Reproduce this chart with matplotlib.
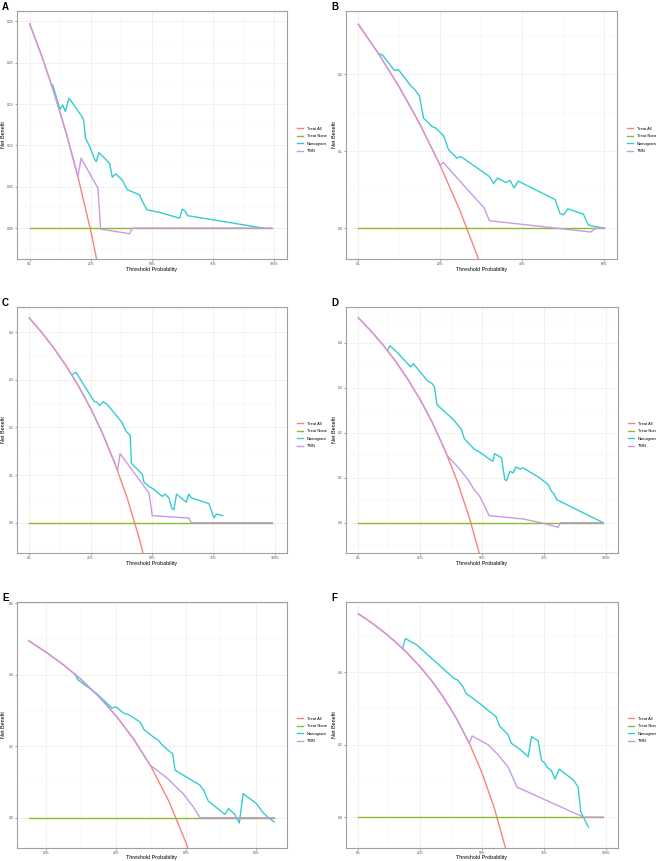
import matplotlib
matplotlib.use("Agg")
import matplotlib.pyplot as plt
from matplotlib.lines import Line2D

plt.rcParams["font.family"] = ["Liberation Sans", "DejaVu Sans"]

W, H = 656, 861

SERIES = ["Treat All", "Treat None", "Nomogram", "TMN"]
COLORS = ["#F9847B", "#8BBA2A", "#33CDD0", "#C99AE2"]

# ---- panel A ----
a_treat_all = [(0.0, 0.247), (0.05, 0.2074), (0.10, 0.1633), (0.15, 0.1141),
               (0.20, 0.0587), (0.25, -0.0040), (0.30, -0.0757)]
a_treat_none = [(0.0, 0.0), (0.99, 0.0)]
a_nomogram = [(0.094, 0.173), (0.124, 0.1436), (0.135, 0.1488), (0.146, 0.1408),
              (0.160, 0.1569), (0.176, 0.1508), (0.190, 0.1448), (0.2145, 0.1347),
              (0.221, 0.1299), (0.228, 0.1086), (0.242, 0.1006), (0.251, 0.0945),
              (0.265, 0.0833), (0.272, 0.0804), (0.283, 0.0913), (0.3265, 0.0784),
              (0.3375, 0.0615), (0.351, 0.0656), (0.378, 0.0583), (0.399, 0.0463),
              (0.4495, 0.0402), (0.463, 0.031), (0.4795, 0.0221), (0.531, 0.0189),
              (0.613, 0.012), (0.624, 0.023), (0.634, 0.021), (0.646, 0.015),
              (0.955, 0.0)]
a_tmn = [(0.0, 0.247), (0.05, 0.2074), (0.10, 0.1633), (0.15, 0.1141),
         (0.197, 0.0623), (0.210, 0.0845), (0.279, 0.0483), (0.290, -0.0012),
         (0.408, -0.0068), (0.420, 0.0), (0.99, 0.0)]

# ---- panel B ----
b_treat_all = [(0.0, 0.265), (0.05, 0.2263), (0.10, 0.1833), (0.15, 0.1353),
               (0.20, 0.0812), (0.25, 0.0200), (0.30, -0.0500)]
b_treat_none = [(0.0, 0.0), (0.60, 0.0)]
b_nomogram = [(0.049, 0.227), (0.059, 0.225), (0.088, 0.205), (0.098, 0.206),
              (0.128, 0.185), (0.138, 0.180), (0.149, 0.172), (0.159, 0.143),
              (0.180, 0.132), (0.189, 0.130), (0.208, 0.120), (0.220, 0.102),
              (0.240, 0.091), (0.250, 0.093), (0.320, 0.067), (0.330, 0.058),
              (0.340, 0.065), (0.360, 0.059), (0.370, 0.062), (0.380, 0.052),
              (0.390, 0.061), (0.480, 0.037), (0.492, 0.019), (0.501, 0.017),
              (0.511, 0.025), (0.549, 0.018), (0.561, 0.004), (0.576, 0.002),
              (0.600, 0.0)]
b_tmn = [(0.0, 0.265), (0.05, 0.2263), (0.10, 0.1833), (0.15, 0.1353),
         (0.20, 0.0812), (0.207, 0.0853), (0.307, 0.026), (0.320, 0.0095),
         (0.567, -0.0052), (0.580, 0.0), (0.600, 0.0)]

# ---- panel C ----
c_treat_all = [(0.0, 0.43), (0.05, 0.400), (0.10, 0.3667), (0.15, 0.3294),
               (0.20, 0.2875), (0.25, 0.240), (0.30, 0.1857), (0.35, 0.1231),
               (0.40, 0.050), (0.45, -0.0364), (0.50, -0.140)]
c_treat_none = [(0.0, 0.0), (0.99, 0.0)]
c_nomogram = [(0.173, 0.310), (0.190, 0.316), (0.264, 0.255), (0.275, 0.253),
              (0.287, 0.246), (0.301, 0.254), (0.318, 0.248), (0.377, 0.211),
              (0.393, 0.193), (0.411, 0.183), (0.416, 0.125), (0.461, 0.101),
              (0.467, 0.085), (0.488, 0.076), (0.505, 0.071), (0.542, 0.055),
              (0.553, 0.060), (0.569, 0.052), (0.580, 0.031), (0.589, 0.027),
              (0.600, 0.060), (0.640, 0.043), (0.650, 0.060), (0.660, 0.052),
              (0.732, 0.040), (0.752, 0.0098), (0.763, 0.018), (0.789, 0.0147)]
c_tmn = [(0.0, 0.43), (0.05, 0.400), (0.10, 0.3667), (0.15, 0.3294),
         (0.20, 0.2875), (0.25, 0.240), (0.30, 0.1857), (0.36, 0.1094),
         (0.370, 0.145), (0.488, 0.062), (0.501, 0.0147), (0.650, 0.0098),
         (0.660, 0.0), (0.99, 0.0)]

# ---- panel D ----
d_treat_all = [(0.0, 0.455), (0.05, 0.4263), (0.10, 0.3944), (0.15, 0.3588),
               (0.20, 0.3187), (0.25, 0.2733), (0.30, 0.2214), (0.35, 0.1615),
               (0.40, 0.0917), (0.45, 0.0091), (0.50, -0.090)]
d_treat_none = [(0.0, 0.0), (0.99, 0.0)]
d_nomogram = [(0.119, 0.384), (0.128, 0.393), (0.159, 0.377), (0.211, 0.346),
              (0.223, 0.353), (0.278, 0.316), (0.298, 0.309), (0.308, 0.301),
              (0.318, 0.262), (0.382, 0.230), (0.416, 0.208), (0.429, 0.186),
              (0.467, 0.164), (0.491, 0.1563), (0.543, 0.1363), (0.552, 0.1533),
              (0.579, 0.1437), (0.592, 0.0956), (0.599, 0.0933), (0.613, 0.1141),
              (0.626, 0.1104), (0.637, 0.1237), (0.653, 0.1193), (0.667, 0.1215),
              (0.734, 0.0993), (0.768, 0.0844), (0.781, 0.0696), (0.791, 0.0644),
              (0.802, 0.0511), (0.990, 0.0)]
d_tmn = [(0.0, 0.455), (0.05, 0.4263), (0.10, 0.3944), (0.15, 0.3588),
         (0.20, 0.3187), (0.25, 0.2733), (0.30, 0.2214), (0.36, 0.1484),
         (0.40, 0.125), (0.443, 0.096), (0.470, 0.072), (0.491, 0.0585),
         (0.529, 0.0156), (0.667, 0.0082), (0.761, -0.003), (0.808, -0.0104),
         (0.818, 0.0), (0.99, 0.0)]

# ---- panel E ----
e_treat_all = [(0.151, 0.4953), (0.20, 0.4637), (0.25, 0.428), (0.30, 0.3871),
               (0.35, 0.340), (0.40, 0.285), (0.45, 0.220), (0.50, 0.142),
               (0.55, 0.0467), (0.60, -0.0725), (0.62, -0.129)]
e_treat_none = [(0.151, 0.0), (0.85, 0.0)]
e_nomogram = [(0.283, 0.403), (0.290, 0.387), (0.345, 0.347), (0.388, 0.307),
              (0.400, 0.310), (0.421, 0.293), (0.435, 0.289), (0.468, 0.268),
              (0.480, 0.246), (0.506, 0.226), (0.520, 0.217), (0.530, 0.205),
              (0.554, 0.184), (0.561, 0.179), (0.568, 0.133), (0.639, 0.091),
              (0.651, 0.074), (0.6625, 0.0467), (0.710, 0.0093), (0.721, 0.0252),
              (0.738, 0.0093), (0.751, -0.015), (0.762, 0.0672), (0.800, 0.0392),
              (0.817, 0.0159), (0.830, 0.0037), (0.850, -0.0122)]
e_tmn = [(0.151, 0.4953), (0.20, 0.4637), (0.25, 0.428), (0.30, 0.3871),
         (0.35, 0.340), (0.40, 0.285), (0.45, 0.220), (0.497, 0.147),
         (0.544, 0.112), (0.591, 0.067), (0.620, 0.030), (0.639, 0.0),
         (0.85, 0.0)]

# ---- panel F ----
f_treat_all = [(0.0, 0.561), (0.05, 0.5379), (0.10, 0.5122), (0.15, 0.4835),
               (0.20, 0.4512), (0.25, 0.4147), (0.30, 0.3729), (0.35, 0.3246),
               (0.40, 0.2683), (0.45, 0.2018), (0.50, 0.122), (0.55, 0.0244),
               (0.60, -0.0975)]
f_treat_none = [(0.0, 0.0), (0.99, 0.0)]
f_nomogram = [(0.179, 0.465), (0.190, 0.493), (0.220, 0.481), (0.233, 0.477),
              (0.386, 0.383), (0.402, 0.378), (0.422, 0.361), (0.436, 0.341),
              (0.490, 0.314), (0.557, 0.277), (0.571, 0.251), (0.605, 0.228),
              (0.618, 0.204), (0.653, 0.187), (0.687, 0.167), (0.700, 0.222),
              (0.727, 0.211), (0.741, 0.156), (0.754, 0.149), (0.761, 0.139),
              (0.781, 0.128), (0.795, 0.105), (0.812, 0.132), (0.869, 0.103),
              (0.889, 0.0826), (0.899, 0.0156), (0.910, 0.0), (0.930, -0.0275)]
f_tmn = [(0.0, 0.561), (0.05, 0.5379), (0.10, 0.5122), (0.15, 0.4835),
         (0.20, 0.4512), (0.25, 0.4147), (0.30, 0.3729), (0.35, 0.3246),
         (0.40, 0.2683), (0.449, 0.203), (0.460, 0.224), (0.524, 0.200),
         (0.564, 0.173), (0.605, 0.139), (0.642, 0.0826), (0.910, 0.0),
         (0.99, 0.0)]

x_full = [0.0, 0.25, 0.5, 0.75, 1.0]
panels = [
    dict(label="A", box=(17, 11, 287, 259),
         data=[a_treat_all, a_treat_none, a_nomogram, a_tmn],
         xlim=(-0.052, 1.052), ylim=(-0.0374, 0.2625),
         xticks=x_full, yticks=[0, 0.05, 0.10, 0.15, 0.20, 0.25], yfmt="{:.2f}"),
    dict(label="B", box=(346, 11, 617, 259),
         data=[b_treat_all, b_treat_none, b_nomogram, b_tmn],
         xlim=(-0.030, 0.631), ylim=(-0.0403, 0.2823),
         xticks=[0.0, 0.2, 0.4, 0.6], yticks=[0, 0.1, 0.2], yfmt="{:.1f}"),
    dict(label="C", box=(17, 307, 287, 553),
         data=[c_treat_all, c_treat_none, c_nomogram, c_tmn],
         xlim=(-0.05, 1.05), ylim=(-0.0637, 0.453),
         xticks=x_full, yticks=[0, 0.1, 0.2, 0.3, 0.4], yfmt="{:.1f}"),
    dict(label="D", box=(346, 307, 618, 553),
         data=[d_treat_all, d_treat_none, d_nomogram, d_tmn],
         xlim=(-0.05, 1.05), ylim=(-0.0674, 0.479),
         xticks=x_full, yticks=[0, 0.1, 0.2, 0.3, 0.4], yfmt="{:.1f}"),
    dict(label="E", box=(17, 602, 287, 848),
         data=[e_treat_all, e_treat_none, e_nomogram, e_tmn],
         xlim=(0.1175, 0.887), ylim=(-0.085, 0.604),
         xticks=[0.2, 0.4, 0.6, 0.8], yticks=[0, 0.2, 0.4, 0.6], yfmt="{:.1f}"),
    dict(label="F", box=(346, 602, 618, 848),
         data=[f_treat_all, f_treat_none, f_nomogram, f_tmn],
         xlim=(-0.05, 1.05), ylim=(-0.0853, 0.5936),
         xticks=x_full, yticks=[0, 0.2, 0.4], yfmt="{:.1f}"),
]


def minors(ticks):
    step = ticks[1] - ticks[0]
    out = [ticks[0] - step / 2]
    out += [t + step / 2 for t in ticks]
    return out


LW = 1.0

fig = plt.figure(figsize=(W / 100, H / 100), dpi=100)

for p in panels:
    l, t, r, b = p["box"]
    ax = fig.add_axes([l / W, 1 - b / H, (r - l) / W, (b - t) / H])
    for pts, col in zip(p["data"], COLORS):
        xs = [q[0] for q in pts]
        ys = [q[1] for q in pts]
        ax.plot(xs, ys, color=col, lw=LW, solid_joinstyle="round")

    ax.set_xticks(p["xticks"])
    ax.set_xticklabels([f"{round(v * 100)}%" for v in p["xticks"]])
    ax.set_yticks(p["yticks"])
    ax.set_yticklabels([p["yfmt"].format(v) for v in p["yticks"]])
    ax.set_xticks(minors(p["xticks"]), minor=True)
    ax.set_yticks(minors(p["yticks"]), minor=True)
    ax.set_xlim(*p["xlim"])
    ax.set_ylim(*p["ylim"])

    ax.set_axisbelow(True)
    ax.grid(which="major", color="#EBEBEB", lw=0.5)
    ax.grid(which="minor", color="#F3F3F3", lw=0.35)
    ax.tick_params(which="major", labelsize=2.4, length=1.2, width=0.4,
                   color="#555555", labelcolor="#4D4D4D", pad=1.2)
    ax.tick_params(which="minor", length=0)
    for sp in ax.spines.values():
        sp.set_color("#A0A0A0")
        sp.set_linewidth(0.8)

    ax.set_xlabel("Threshold Probability", fontsize=3.9)
    ax.set_ylabel("Net Benefit", fontsize=3.9)
    ax.xaxis.set_label_coords(0.5, -10 / (b - t))
    ax.xaxis.label.set_va("center")
    ax.yaxis.set_label_coords(-(l - 4 if l < 100 else 12) / (r - l), 0.5)
    ax.yaxis.label.set_va("center")

    handles = [Line2D([], [], color=c, lw=LW) for c in COLORS]
    fig.legend(handles, SERIES, loc="center left",
               bbox_to_anchor=((r + 10) / W, 1 - ((t + b) / 2 + 5) / H),
               frameon=False, fontsize=2.9, handlelength=1.6,
               handletextpad=0.8, labelspacing=0.9, borderpad=0,
               borderaxespad=0)

    fig.text((l - 15) / W, 1 - (t - 9) / H, p["label"], fontsize=7,
             fontweight="bold", ha="left", va="top")

fig.savefig("out.png", dpi=100)
